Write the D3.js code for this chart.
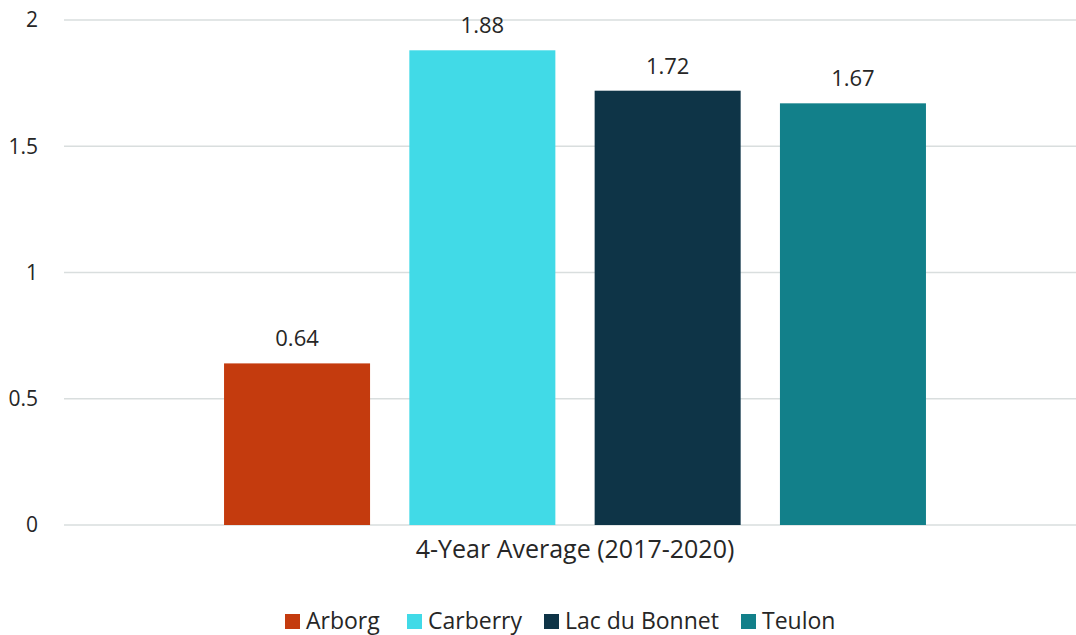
<!DOCTYPE html>
<html><head><meta charset="utf-8">
<script src="https://cdn.jsdelivr.net/npm/d3@7"></script>
<style>body{margin:0;background:#fff}text{font-family:"Open Sans","Noto Sans",sans-serif;fill:#262626}</style>
</head><body>
<svg id="c" width="1076" height="635"></svg>
<script>
const categories = ["4-Year Average (2017-2020)"];
const seriesNames = ["Arborg", "Carberry", "Lac du Bonnet", "Teulon"];
const seriesValues = [0.64, 1.88, 1.72, 1.67];
const seriesColors = ["#C43B0E", "#41DAE7", "#0E3447", "#12808A"];
const yTicks = [0, 0.5, 1, 1.5, 2];

(function () {
const svg = d3.select("#c");
const mLeft = 64, mRight = 1086, mTop = 20, mBottom = 525;
const y = d3.scaleLinear().domain([0, 2]).range([mBottom, mTop]);
const x0 = d3.scaleBand().domain(categories).range([mLeft, mRight]).paddingInner(0).paddingOuter(0.228);
const x1 = d3.scaleBand().domain(seriesNames).range([0, x0.bandwidth()]).paddingInner(0.212).paddingOuter(0);

svg.append("g").selectAll("line").data(yTicks).join("line")
  .attr("x1", mLeft).attr("x2", 1076)
  .attr("y1", d => y(d)).attr("y2", d => y(d))
  .attr("stroke", "#D9DEDE").attr("stroke-width", 1.5);

svg.append("g").selectAll("text").data(yTicks).join("text")
  .attr("x", 38).attr("y", d => y(d)).attr("dy", "0.35em")
  .attr("text-anchor", "end").attr("font-size", 21)
  .text(d => d3.format("")(d));

const g = svg.append("g").attr("transform", `translate(${x0(categories[0])},0)`);
g.selectAll("rect").data(seriesNames).join("rect")
  .attr("x", d => x1(d)).attr("width", x1.bandwidth())
  .attr("y", (d, i) => y(seriesValues[i]))
  .attr("height", (d, i) => y(0) - y(seriesValues[i]))
  .attr("fill", (d, i) => seriesColors[i]);
g.selectAll("text.v").data(seriesNames).join("text").attr("class", "v")
  .attr("x", d => x1(d) + x1.bandwidth() / 2)
  .attr("y", (d, i) => y(seriesValues[i]) - 17)
  .attr("text-anchor", "middle").attr("font-size", 22)
  .text((d, i) => seriesValues[i].toFixed(2));

svg.append("text").attr("x", x0(categories[0]) + x0.bandwidth() / 2).attr("y", 558)
  .attr("text-anchor", "middle").attr("font-size", 25).text(categories[0]);

const legX = [285, 407, 544, 741];
const lg = svg.append("g");
seriesNames.forEach((n, i) => {
  lg.append("rect").attr("x", legX[i]).attr("y", 614).attr("width", 15).attr("height", 15).attr("fill", seriesColors[i]);
  lg.append("text").attr("x", legX[i] + 21).attr("y", 629).attr("font-size", 23).text(n);
});
})();
</script>
</body></html>
